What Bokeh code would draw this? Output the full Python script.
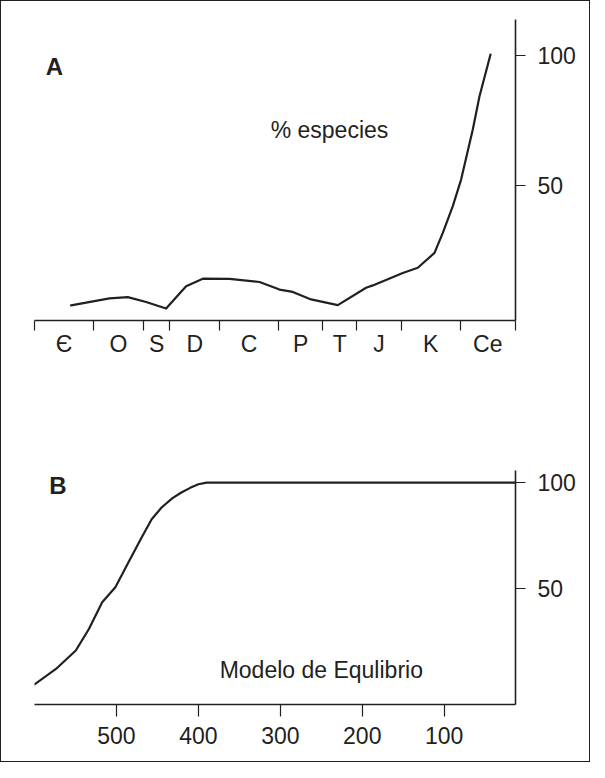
import numpy as np
from bokeh.plotting import figure
from bokeh.models import Range1d, FixedTicker, Label
from bokeh.layouts import column
from bokeh.embed import file_html
from bokeh.resources import INLINE

# ---------------- data ----------------
# Panel A: geological periods (axis units along the time axis)
period_labels = ["Є", "O", "S", "D", "C", "P", "T", "J", "K", "Ce"]
period_bounds = [0, 59, 109, 135.3, 185.3, 244, 288.3, 322.3, 366.6, 425.6, 481]
a_time = [36.6, 75, 93.3, 111.6, 131.6, 151.6, 168.3, 195, 225, 245, 258.3,
          276.6, 303.3, 331.6, 338.3, 368.3, 383.3, 400, 408.3, 418.3, 426.6,
          438.3, 445, 451.6, 456]
a_pct = [4.0, 6.7, 7.2, 5.3, 2.8, 11.4, 14.3, 14.2, 13.0, 10.1, 9.2,
         6.3, 4.1, 10.8, 11.7, 16.5, 18.5, 24.2, 31.9, 42.2, 52.4,
         71.7, 84.5, 94.1, 100.5]
a_yticks = [50, 100]

# Panel B: equilibrium model (millions of years ago)
b_myr = [600, 573.8, 549.6, 533.6, 517.4, 501.3, 485.3, 469.1, 457.0, 444.9,
         432, 420.8, 410, 400, 390, 13]
b_pct = [4.6, 11.9, 20.6, 30.8, 43.4, 50.5, 62.3, 74.1, 82.7, 88.2,
         92.5, 95.3, 97.5, 99.2, 100, 100]
b_xticks = [500, 400, 300, 200, 100]
b_yticks = [50, 100]

INK = "#231f20"
FONT = "Liberation Sans"
FS = "23px"


def style_axis(ax):
    ax.axis_line_color = INK
    ax.axis_line_width = 1.6
    ax.major_tick_line_color = INK
    ax.major_tick_line_width = 1.2
    ax.minor_tick_line_color = None
    ax.major_label_text_font = FONT
    ax.major_label_text_font_size = FS
    ax.major_label_text_color = INK
    ax.major_tick_in = 0


# ---------------- panel A ----------------
pA = figure(width=588, height=391, output_backend="svg", toolbar_location=None,
            x_range=Range1d(0, 481), y_range=Range1d(-1.8, 114),
            x_axis_location="below", y_axis_location="right",
            min_border_left=33, min_border_right=74,
            min_border_top=18, min_border_bottom=72)
pA.grid.visible = False
pA.outline_line_color = None
pA.background_fill_color = "white"
pA.border_fill_color = "white"

mids = [(period_bounds[i] + period_bounds[i + 1]) / 2 for i in range(len(period_labels))]
xa = pA.xaxis[0]
style_axis(xa)
xa.ticker = FixedTicker(ticks=mids, minor_ticks=period_bounds)
xa.major_label_overrides = {m: lab for m, lab in zip(mids, period_labels)}
xa.major_tick_out = 0
xa.major_tick_line_color = None
xa.minor_tick_line_color = INK
xa.minor_tick_line_width = 1.2
xa.minor_tick_out = 10
xa.minor_tick_in = 0
xa.major_label_standoff = 0

ya = pA.yaxis[0]
style_axis(ya)
ya.ticker = FixedTicker(ticks=a_yticks)
ya.major_tick_out = 10
ya.major_label_standoff = 12

pA.line(a_time, a_pct, line_color=INK, line_width=2.2, line_join="round", line_cap="round")

pA.add_layout(Label(x=20, y=96, text="A", text_font=FONT, text_font_size="24px",
                    text_font_style="bold", text_color=INK,
                    text_align="center", text_baseline="middle"))
pA.add_layout(Label(x=295, y=71.5, text="% especies", text_font=FONT, text_font_size=FS,
                    text_color=INK, text_align="center", text_baseline="middle"))

# ---------------- panel B ----------------
pB = figure(width=588, height=369, output_backend="svg", toolbar_location=None,
            x_range=Range1d(600, 13), y_range=Range1d(-4.9, 105.7),
            x_axis_location="below", y_axis_location="right",
            min_border_left=29, min_border_right=73,
            min_border_top=78, min_border_bottom=57)
pB.grid.visible = False
pB.outline_line_color = None
pB.background_fill_color = "white"
pB.border_fill_color = "white"

xb = pB.xaxis[0]
style_axis(xb)
xb.ticker = FixedTicker(ticks=b_xticks)
xb.major_tick_out = 12
xb.major_label_standoff = 10

yb = pB.yaxis[0]
style_axis(yb)
yb.ticker = FixedTicker(ticks=b_yticks)
yb.major_tick_out = 10
yb.major_label_standoff = 12

pB.line(b_myr, b_pct, line_color=INK, line_width=2.2, line_join="round", line_cap="round")

pB.add_layout(Label(x=571.4, y=98.6, text="B", text_font=FONT, text_font_size="24px",
                    text_font_style="bold", text_color=INK,
                    text_align="center", text_baseline="middle"))
pB.add_layout(Label(x=250, y=11.3, text="Modelo de Equlibrio", text_font=FONT,
                    text_font_size=FS, text_color=INK,
                    text_align="center", text_baseline="middle"))

layout = column(pA, pB, spacing=0,
                styles={"border": "1px solid #231f20", "background-color": "white"})

open("out.html", "w").write(file_html(layout, INLINE))
